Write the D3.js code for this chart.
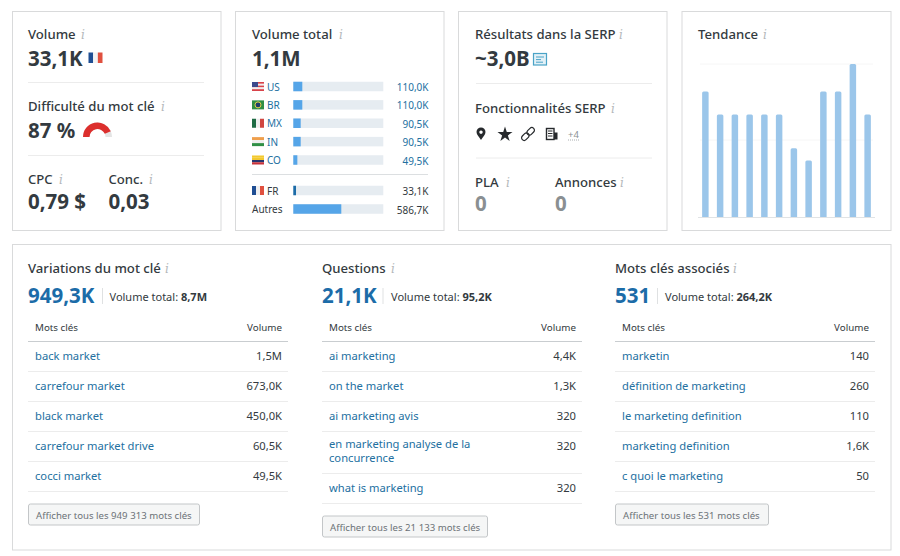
<!DOCTYPE html>
<html><head><meta charset="utf-8">
<script src="https://cdn.jsdelivr.net/npm/d3@7"></script>
<style>html,body{margin:0;padding:0;background:#fff}svg{display:block}text{font-family:"Noto Sans","Open Sans",sans-serif}</style>
</head><body><svg id="c" width="900" height="556"></svg>
<script>
const countries=["US","BR","MX","IN","CO"];
const countryVolumes=[110000,110000,90500,90500,49500];
const countryLabels=["110,0K","110,0K","90,5K","90,5K","49,5K"];
const localNames=["FR","Autres"];
const localVolumes=[33100,586700];
const localLabels=["33,1K","586,7K"];
const totalVolume=1100000;
const trendMonths=d3.range(1,13).map(String);
const trendValues=[82,67,67,67,67,67,45,37,82,82,100,67];
const difficulty=87;
const variationKeywords=["back market","carrefour market","black market","carrefour market drive","cocci market"];
const variationVolumes=["1,5M","673,0K","450,0K","60,5K","49,5K"];
const questionKeywords=[["ai marketing"],["on the market"],["ai marketing avis"],["en marketing analyse de la","concurrence"],["what is marketing"]];
const questionVolumes=["4,4K","1,3K","320","320","320"];
const relatedKeywords=["marketin","définition de marketing","le marketing definition","marketing definition","c quoi le marketing"];
const relatedVolumes=["140","260","110","1,6K","50"];

const svg=d3.select("#c");
const DARK="#333a40",BLUE="#23709f",STRONG="#1c6ca8",LINE="#ececec",BORDER="#d9dadb",BIG=20.5,LAB=13.15;
function T(x,y,s,size,o={}){
  return svg.append("text").attr("x",x).attr("y",y).text(s)
    .attr("font-size",size).attr("font-weight",o.w||400).attr("fill",o.c||DARK)
    .attr("text-anchor",o.a||"start").attr("letter-spacing",o.ls||null);
}
function info(x,y){svg.append("text").attr("x",x).attr("y",y).text("i").attr("font-size",12)
  .attr("font-style","italic").style("font-family","'DejaVu Serif',serif").attr("fill","#b4b8ba");}
function label(x,y,s,ix,size=LAB){T(x,y,s,size,{w:500});info(ix,y);}
function hline(x1,x2,y,c=LINE){svg.append("line").attr("x1",x1).attr("x2",x2).attr("y1",y).attr("y2",y).attr("stroke",c);}
function card(x,y,w,h){svg.append("rect").attr("x",x).attr("y",y).attr("width",w).attr("height",h).attr("fill","#fff").attr("stroke",BORDER);}
function stripesV(x,y,w,h,cols){cols.forEach((c,i)=>svg.append("rect").attr("x",x+i*w/cols.length).attr("y",y).attr("width",w/cols.length).attr("height",h).attr("fill",c));}
function stripesH(x,y,w,h,cols){cols.forEach((c,i)=>svg.append("rect").attr("x",x).attr("y",y+i*h/cols.length).attr("width",w).attr("height",h/cols.length).attr("fill",c));}

[[12.5,208.5],[235.5,208.5],[458.5,208.5],[682,209]].forEach(d=>card(d[0],11.5,d[1],219));
card(12.5,244.5,878.5,305.5);

/* card 1 */
label(28,39,"Volume",81);
T(28,66,"33,1K",BIG,{w:700});
stripesV(88.5,52.5,14,10.5,["#1f4e93","#f3f3f3","#e0503f"]);
hline(28,204,82.5);
label(28,111,"Difficulté du mot clé",161);
T(28,138,"87 %",BIG,{w:700});
const ang=d3.scaleLinear().domain([0,100]).range([-Math.PI/2,Math.PI/2]);
const arc=d3.arc().innerRadius(8).outerRadius(14.5);
const gauge=svg.append("g").attr("transform","translate(97.5,137)");
gauge.append("path").attr("d",arc({startAngle:ang(0),endAngle:ang(100)})).attr("fill","#e4e4e4");
gauge.append("path").attr("d",arc({startAngle:ang(0),endAngle:ang(difficulty)})).attr("fill","#dc2f2d");
hline(28,204,155.5);
label(28,184,"CPC",59);
T(28,209,"0,79 $",BIG,{w:700});
label(108.5,184,"Conc.",149);
T(108.5,209,"0,03",BIG,{w:700});

/* card 2 */
label(252,39,"Volume total",339);
T(252,66,"1,1M",BIG,{w:700});
const vol=d3.scaleLinear().domain([0,totalVolume]).range([0,90]);
const barX=293.3,barH=9.5;
const flags={
 US:(x,y)=>{stripesH(x,y,12,9,["#d8434a","#eee","#d8434a","#eee","#d8434a"]);svg.append("rect").attr("x",x).attr("y",y).attr("width",6).attr("height",5).attr("fill","#3c4a8c");},
 BR:(x,y)=>{svg.append("rect").attr("x",x).attr("y",y).attr("width",12).attr("height",9).attr("fill","#2f8f45");svg.append("circle").attr("cx",x+6).attr("cy",y+4.5).attr("r",3).attr("fill","#1f3d6a").attr("stroke","#e6d64a");},
 MX:(x,y)=>stripesV(x,y,12,9,["#1f6b44","#eee","#d04640"]),
 IN:(x,y)=>stripesH(x,y,12,9,["#ef9f4c","#eee","#2f8f45"]),
 CO:(x,y)=>stripesH(x,y,12,9,["#f3c92f","#f3c92f","#27356f","#c8323a"]),
 FR:(x,y)=>stripesV(x,y,12,9,["#1f4e93","#f0f0f0","#e0503f"])
};
function volBar(y,v,isDark){
  svg.append("rect").attr("x",barX).attr("y",y-barH/2).attr("width",90).attr("height",barH).attr("fill","#e6ecf1");
  svg.append("rect").attr("x",barX).attr("y",y-barH/2).attr("width",vol(v)).attr("height",barH).attr("fill",isDark?"#1c6ca8":"#55a5e8");
}
const countryY=d3.scalePoint().domain(countries).range([86.5,160]);
countries.forEach((c,i)=>{
  const y=countryY(c);
  flags[c](252,y-4.5);
  T(267,y+4,c,10,{c:BLUE});
  volBar(y,countryVolumes[i]);
  T(428.5,y+4.5,countryLabels[i],10,{c:BLUE,a:"end"});
});
hline(252,428,174.5,"#dcdfe1");
const localY=d3.scalePoint().domain(localNames).range([190.5,209]);
localNames.forEach((c,i)=>{
  const y=localY(c);
  if(c==="FR"){flags.FR(252,y-4.5);T(267,y+4,c,10,{});}
  else T(252,y+4,c,10,{});
  volBar(y,localVolumes[i],c==="FR");
  T(428.5,y+4.5,localLabels[i],10,{a:"end"});
});

/* card 3 */
label(475,39,"Résultats dans la SERP",619);
T(475,66,"~3,0B",BIG,{w:700});
svg.append("rect").attr("x",533.5).attr("y",53.5).attr("width",13).attr("height",11.5).attr("fill","#e3f1f7").attr("stroke","#4aa3c7").attr("stroke-width",1.2);
[[536,8],[536,5],[536,7]].forEach((d,i)=>svg.append("line").attr("x1",d[0]).attr("x2",d[0]+d[1]).attr("y1",57+i*2.6).attr("y2",57+i*2.6).attr("stroke","#4aa3c7"));
hline(476,652,83.5);
label(475,113,"Fonctionnalités SERP",611);
svg.append("path").attr("transform","translate(481,134)").attr("d","M0,6 C-2,3 -4.5,0.5 -4.5,-2 A4.5,4.5 0 1 1 4.5,-2 C4.5,0.5 2,3 0,6 Z M0,-3.6 A1.7,1.7 0 1 0 0.01,-3.6 Z").attr("fill","#26292c").attr("fill-rule","evenodd");
svg.append("path").attr("transform","translate(505,134.5)").attr("d",d3.symbol(d3.symbolStar,70)()).attr("fill","#26292c");
svg.append("g").attr("transform","translate(528,134) rotate(-45)").call(g=>{
  [[-8,-2.6],[-0.5,-2.6]].forEach(d=>g.append("rect").attr("x",d[0]).attr("y",d[1]).attr("width",8.5).attr("height",5.2).attr("rx",2.6).attr("fill","none").attr("stroke","#26292c").attr("stroke-width",1.2));
});
svg.append("rect").attr("x",546.5).attr("y",128.5).attr("width",7.5).attr("height",11).attr("fill","none").attr("stroke","#26292c").attr("stroke-width",1.4);
svg.append("rect").attr("x",554).attr("y",132.5).attr("width",3.5).attr("height",7).attr("fill","#26292c");
[131,133.5,136].forEach(y=>svg.append("line").attr("x1",548).attr("x2",552.5).attr("y1",y).attr("y2",y).attr("stroke","#26292c"));
T(568,138,"+4",9.5,{c:"#8b9194"});
svg.append("line").attr("x1",568).attr("x2",580).attr("y1",140).attr("y2",140).attr("stroke","#a9adb0").attr("stroke-dasharray","1,1");
hline(476,652,158);
label(475,187,"PLA",506);
T(475,211,"0",BIG,{w:700,c:"#8a8f92"});
label(555,187,"Annonces",620);
T(555,211,"0",BIG,{w:700,c:"#8a8f92"});

/* card 4 */
label(698,39,"Tendance",763);
const xT=d3.scaleBand().domain(trendMonths).range([698,875]).paddingInner(0.56).paddingOuter(0.28);
const yT=d3.scaleLinear().domain([0,100]).range([217,64]);
[64,140].forEach(y=>hline(700,873,y,"#f6f6f6"));
svg.append("g").selectAll("path").data(trendValues).join("path")
 .attr("d",(v,i)=>{const x=xT(trendMonths[i]),w=xT.bandwidth(),t=yT(v),b=yT(0),r=1.5;
   return `M${x},${b}V${t+r}Q${x},${t} ${x+r},${t}H${x+w-r}Q${x+w},${t} ${x+w},${t+r}V${b}Z`;})
 .attr("fill","#9bc6ea");
hline(698,875,217.5,"#e0e3e5");

/* tables */
function table(x,title,ix,big,totalX,totalLab,totalVal,sepX,kw,vols,btn,btnW){
  const w=260;
  label(x,273,title,ix);
  T(x,303,big,BIG,{w:700,c:STRONG});
  svg.append("line").attr("x1",sepX).attr("x2",sepX).attr("y1",288).attr("y2",304).attr("stroke","#dfe1e2");
  const t=T(totalX,301,totalLab,11,{});
  t.append("tspan").text(" "+totalVal).attr("font-weight",700);
  T(x+7,331,"Mots clés",9.8,{});
  T(x+w-6,331,"Volume",9.8,{a:"end"});
  hline(x,x+w,341.5,"#c9cdd0");
  let y=341.5;
  kw.forEach((k,i)=>{
    const lines=Array.isArray(k)?k:[k];
    const h=lines.length>1?42:30;
    const tY=lines.length>1?y+16.5:y+18.7;
    lines.forEach((l,j)=>T(x+7,tY+j*14,l,11.2,{c:BLUE}));
    T(x+w-6,y+18.7,vols[i],11.2,{a:"end"});
    y+=h;
    hline(x,x+w,y);
  });
  const by=y+12.5;
  svg.append("rect").attr("x",x+.5).attr("y",by).attr("width",btnW).attr("height",21).attr("rx",2).attr("fill","#f5f6f6").attr("stroke","#c3c6c8");
  T(x+8,by+14.5,btn,9.65,{c:"#6c7276"});
}
table(28,"Variations du mot clé",165,"949,3K",109.5,"Volume total:","8,7M",102.5,variationKeywords,variationVolumes,"Afficher tous les 949 313 mots clés",171);
table(322,"Questions",391,"21,1K",391,"Volume total:","95,2K",383,questionKeywords,questionVolumes,"Afficher tous les 21 133 mots clés",165);
table(615,"Mots clés associés",733,"531",665,"Volume total:","264,2K",657.5,relatedKeywords,relatedVolumes,"Afficher tous les 531 mots clés",153);
</script></body></html>
